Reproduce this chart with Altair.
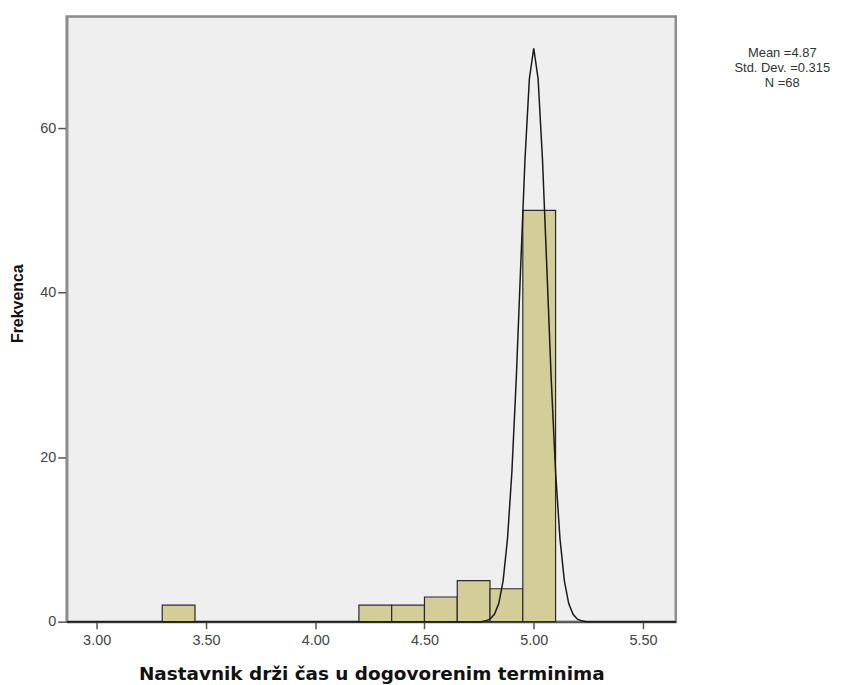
import altair as alt
import pandas as pd

# Histogram bins (lower/upper edge) and frequencies
bin_start = [3.30, 4.20, 4.35, 4.50, 4.65, 4.80, 4.95]
bin_end = [3.45, 4.35, 4.50, 4.65, 4.80, 4.95, 5.10]
counts = [2, 2, 2, 3, 5, 4, 50]

# Normal curve
curve_x = [2.863, 4.76, 4.78, 4.80, 4.82, 4.84, 4.86, 4.88, 4.90, 4.92, 4.94, 4.96, 4.98,
           5.00, 5.02, 5.04, 5.06, 5.08, 5.10, 5.12, 5.14, 5.16, 5.18, 5.20, 5.22, 5.24, 5.65]
curve_y = [0.0, 0.0, 0.1, 0.3, 0.9, 2.2, 5.0, 10.1, 18.2, 29.5, 43.0, 56.2, 66.0,
           69.7, 66.0, 56.2, 43.0, 29.5, 18.2, 10.1, 5.0, 2.2, 0.9, 0.3, 0.1, 0.0, 0.0]

x_ticks = [3.0, 3.5, 4.0, 4.5, 5.0, 5.5]
y_ticks = [0, 20, 40, 60]
stats_lines = ["Mean =4.87", "Std. Dev. =0.315", "N =68"]

bars_df = pd.DataFrame({"start": bin_start, "end": bin_end, "count": counts})
curve_df = pd.DataFrame({"x": curve_x, "y": curve_y})

xscale = alt.Scale(domain=[2.863, 5.65], nice=False, zero=False)
yscale = alt.Scale(domain=[0, 73.55], nice=False)

xaxis = alt.Axis(
    values=x_ticks, format=".2f", grid=False,
    title="Nastavnik drži čas u dogovorenim terminima",
    titleFont="DejaVu Sans", titleFontSize=18.5, titleFontWeight="bold", titleColor="#111111",
    titleX=306, titleY=58, titleAlign="center", titleBaseline="alphabetic",
    labelFont="Liberation Sans", labelFontSize=14.5, labelColor="#444444", labelPadding=5,
    tickSize=7, tickColor="#555555", tickWidth=1.5,
    domainColor="#555555", domainWidth=2,
)
yaxis = alt.Axis(
    values=y_ticks, grid=False, title="Frekvenca",
    titleFont="Liberation Sans", titleFontSize=16, titleFontWeight="bold", titleColor="#111111",
    titleAngle=270, titleX=-49, titleY=288, titleAlign="center", titleBaseline="middle",
    labelFont="Liberation Sans", labelFontSize=14.5, labelColor="#444444", labelPadding=2,
    tickSize=9, tickColor="#555555", tickWidth=1.5,
    domainColor="#8c8c8c", domainWidth=2.5,
)

bars = alt.Chart(bars_df).mark_bar(
    fill="#d3ce97", stroke="#2b2b2b", strokeWidth=1.2
).encode(
    x=alt.X("start:Q", scale=xscale, axis=xaxis),
    x2="end:Q",
    y=alt.Y("count:Q", scale=yscale, axis=yaxis),
    y2=alt.datum(0),
)

curve = alt.Chart(curve_df).mark_line(
    color="#1a1a1a", strokeWidth=1.5
).encode(
    x=alt.X("x:Q", scale=xscale),
    y=alt.Y("y:Q", scale=yscale),
)

stats = alt.Chart(pd.DataFrame({"k": [0]})).mark_text(
    text=stats_lines, align="center", baseline="top", fontSize=13, lineHeight=15,
    font="Liberation Sans", color="#333333",
).encode(x=alt.value(719), y=alt.value(31))

chart = alt.layer(bars, curve, stats).properties(
    width=612, height=608,
    padding={"left": 59, "top": 7, "right": 164, "bottom": 62},
    autosize=alt.AutoSizeParams(type="none"),
).configure_view(
    fill="#efefef", stroke="#8c8c8c", strokeWidth=2.5
)

chart.save("out.html", embed_options={"renderer": "svg", "actions": False})
